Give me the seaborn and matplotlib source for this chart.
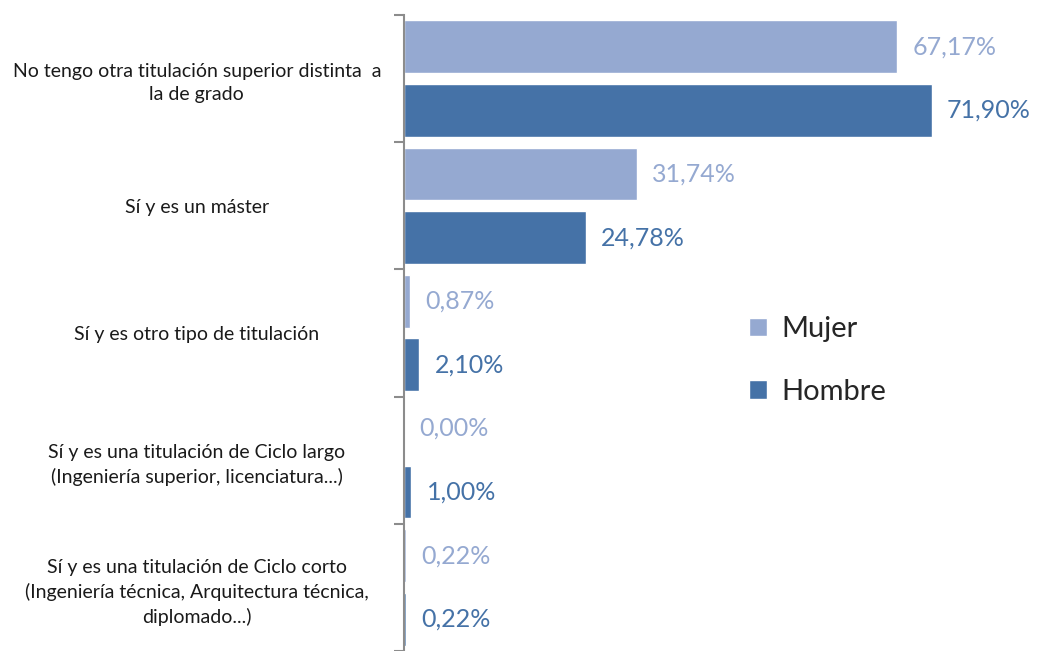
import pandas as pd
import seaborn as sns
import matplotlib.pyplot as plt

categories = [
    "No tengo otra titulación superior distinta  a\nla de grado",
    "Sí y es un máster",
    "Sí y es otro tipo de titulación",
    "Sí y es una titulación de Ciclo largo\n(Ingeniería superior, licenciatura...)",
    "Sí y es una titulación de Ciclo corto\n(Ingeniería técnica, Arquitectura técnica,\ndiplomado...)",
]
mujer = [67.17, 31.74, 0.87, 0.00, 0.22]
hombre = [71.90, 24.78, 2.10, 1.00, 0.22]
series = ["Mujer", "Hombre"]
colors = ["#95a9d1", "#4572a7"]

df = pd.DataFrame({
    "cat": categories * 2,
    "val": mujer + hombre,
    "sexo": ["Mujer"] * len(mujer) + ["Hombre"] * len(hombre),
})

sns.set_theme(style="white")
plt.rcParams["font.family"] = ["Lato", "DejaVu Sans"]

fig = plt.figure(figsize=(10.39, 6.51), dpi=100)
ax = fig.add_axes([404 / 1039, 0, 587 / 1039, 636 / 651])

sns.barplot(data=df, y="cat", x="val", hue="sexo", hue_order=series,
            palette=colors, order=categories, orient="h",
            width=1.0, gap=0.17, saturation=1, ax=ax, legend=True)

for cont, col, vals in zip(ax.containers, colors, [mujer, hombre]):
    labels = [f"{v:.2f}%".replace(".", ",") for v in vals]
    ax.bar_label(cont, labels=labels, padding=11, color=col, fontsize=18)

ax.set_xlim(0, 80)
ax.set_ylim(len(categories) - 0.5, -0.5)
ax.set_xlabel("")
ax.set_ylabel("")
ax.set_xticks([])
ax.tick_params(axis="y", which="major", length=0, labelsize=14,
               labelcolor="#1a1a1a")
for t in ax.get_yticklabels():
    t.set_horizontalalignment("center")
    t.set_multialignment("center")
    t.set_linespacing(1.45)
fig.canvas.draw()
for t in ax.get_yticklabels():
    t.set_x(-0.353)
    t.set_transform(ax.get_yaxis_transform())
ax.set_yticks([i - 0.5 for i in range(len(categories) + 1)], minor=True)
ax.tick_params(axis="y", which="minor", left=True, length=7, width=1.5,
               color="#8c8c8c")
for side in ["top", "right", "bottom"]:
    ax.spines[side].set_visible(False)
ax.spines["left"].set_color("#8c8c8c")
ax.spines["left"].set_linewidth(1.5)

ax.legend(loc="upper left", bbox_to_anchor=(723 / 1039, 1 - 290 / 651),
          bbox_transform=fig.transFigure, frameon=False, fontsize=21,
          handlelength=0.6, handleheight=0.6, labelspacing=1.25,
          handletextpad=0.5)

fig.savefig("out.png", dpi=100)
